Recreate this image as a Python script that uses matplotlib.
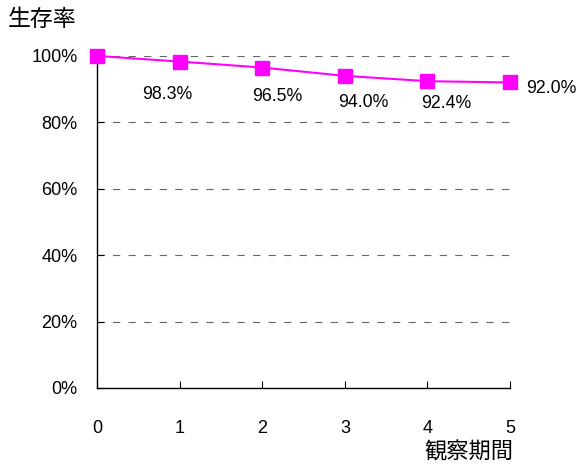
import matplotlib
matplotlib.use("Agg")
import matplotlib.pyplot as plt
from matplotlib.ticker import FuncFormatter

plt.rcParams['font.family'] = ['Liberation Sans', 'Noto Sans CJK JP', 'DejaVu Sans']

periods = [0, 1, 2, 3, 4, 5]
survival = [100.0, 98.3, 96.5, 94.0, 92.4, 92.0]
point_labels = ["", "98.3%", "96.5%", "94.0%", "92.4%", "92.0%"]
yticks = [0, 20, 40, 60, 80, 100]

# label offsets in pixels (dx, dy) relative to the marker
label_offsets = [(0, 0), (-12, -33), (15, -29), (18, -27), (19, -22), (16, -6)]

fig = plt.figure(figsize=(5.79, 4.70), dpi=100)
ax = fig.add_axes([0.1675, 0.1745, 0.7135, 0.7065])

for y in yticks[1:]:
    ax.axhline(y, color='#666666', linestyle=(0, (6.5, 7.5)), linewidth=0.8, zorder=1)

ax.plot(periods, survival, color='#ff00ff', linewidth=1.5, marker='s',
        markersize=9.5, markerfacecolor='#ff00ff', markeredgecolor='#ff00ff', zorder=3, clip_on=False)

px = 72.0 / 100
fs = 12.8
for i, (x, y, lab) in enumerate(zip(periods, survival, point_labels)):
    if not lab:
        continue
    dx, dy = label_offsets[i]
    if i == len(periods) - 1:
        ax.annotate(lab, (x, y), xytext=(dx * px, dy * px), textcoords='offset points',
                    ha='left', va='center', fontsize=fs, annotation_clip=False)
    else:
        ax.annotate(lab, (x, y), xytext=(dx * px, dy * px), textcoords='offset points',
                    ha='center', va='center', fontsize=fs)

ax.set_xlim(0, 5)
ax.set_ylim(0, 100)
ax.set_xticks(periods)
ax.set_yticks(yticks)
ax.yaxis.set_major_formatter(FuncFormatter(lambda v, p: f"{int(v)}%"))
ax.tick_params(axis='both', direction='in', length=5, labelsize=13, width=0.8)
ax.tick_params(axis='x', pad=23)
ax.tick_params(axis='y', pad=14)
for s in ['top', 'right']:
    ax.spines[s].set_visible(False)
for s in ['left', 'bottom']:
    ax.spines[s].set_linewidth(1.0)
    ax.spines[s].set_color('black')

fig.text(0.014, 0.959, "生存率", fontsize=16.5, ha='left', va='center',
         family=['Noto Sans CJK JP', 'DejaVu Sans'])
fig.text(0.887, 0.038, "観察期間", fontsize=16, ha='right', va='center',
         family=['Noto Sans CJK JP', 'DejaVu Sans'])

fig.savefig("out.png", dpi=100)
